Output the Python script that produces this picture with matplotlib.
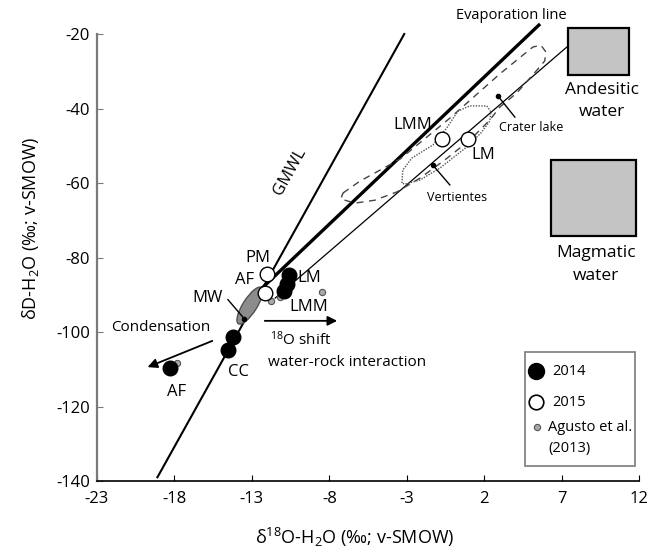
import matplotlib
matplotlib.use('Agg')
import matplotlib.pyplot as plt
import matplotlib.transforms as mtransforms
from matplotlib.patches import Ellipse, Rectangle, Polygon

plt.rcParams['font.family'] = ['Open Sans', 'DejaVu Sans']
plt.rcParams['mathtext.fontset'] = 'custom'
plt.rcParams['mathtext.rm'] = 'Open Sans'
plt.rcParams['mathtext.it'] = 'Open Sans:italic'
plt.rcParams['mathtext.bf'] = 'Open Sans:bold'
plt.rcParams['axes.unicode_minus'] = False

# ---------------- data ----------------
x_ticks = [-23, -18, -13, -8, -3, 2, 7, 12]
y_ticks = [-20, -40, -60, -80, -100, -120, -140]

# 2014 samples (filled black)
d18O_2014 = [-10.6, -10.75, -10.9, -14.21, -14.53, -18.26]
dD_2014 = [-84.8, -87.0, -89.0, -101.3, -104.8, -109.7]
# 2015 samples (open)
d18O_2015 = [-12.0, -12.13, -0.71, 0.94]
dD_2015 = [-84.4, -89.5, -48.2, -48.2]
# Agusto et al. (2013) (small grey)
d18O_agusto = [-11.16, -11.74, -8.48, -17.82]
dD_agusto = [-90.6, -91.7, -89.2, -108.4]

# meteoric water cluster (MW)
mw_center = (-13.13, -92.9)
mw_dot = (-13.48, -96.5)

# reference lines (end points)
gmwl_x = [-19.1, -3.17]
gmwl_y = [-139.0, -20.0]
evap_x = [-12.6, 5.52]
evap_y = [-89.2, -17.6]
andes_x = [-11.5, 7.35]
andes_y = [-90.9, -23.4]

# water boxes (x0, x1, y0, y1)
andesitic_box = (7.41, 11.35, -31.0, -18.5)
magmatic_box = (6.29, 11.81, -74.2, -53.8)

# Vertientes field (dotted outline)
vert_x = [-3.32, -3.26, -2.68, -1.32, -0.42, 0.29, 1.06, 2.16, 2.42, 2.35,
          1.77, 0.87, -0.87, -2.16, -3.13]
vert_y = [-60.0, -56.5, -53.3, -49.8, -45.2, -40.7, -39.3, -39.3, -40.9,
          -43.4, -46.6, -50.3, -56.0, -59.2, -60.3]
# Crater lake field (dashed outline)
crater_x = [-7.13, -6.03, -3.45, -0.23, 3.0, 5.13, 5.65, 5.97, 5.90, 5.39,
            4.10, 3.0, 2.35, 1.06, -0.55, -2.16, -3.65, -5.06, -6.35, -7.26]
crater_y = [-62.7, -59.5, -53.6, -42.6, -30.7, -23.5, -23.0, -24.8, -27.2,
            -29.7, -35.8, -39.6, -43.1, -48.5, -53.8, -58.7, -62.4, -64.6,
            -65.4, -64.3]

legend_labels = ['2014', '2015', 'Agusto et al.', '(2013)']

# ---------------- figure ----------------
fig = plt.figure(figsize=(6.62, 5.55), dpi=100)
ax = fig.add_axes([0.1465, 0.1333, 0.8192, 0.8054])
ax.set_xlim(-23, 12)
ax.set_ylim(-140, -20)
ax.set_xticks(x_ticks)
ax.set_yticks(y_ticks)
ax.tick_params(direction='in', length=4, labelsize=12)
ax.tick_params(axis='x', pad=7)
ax.tick_params(axis='y', pad=5, colors='#7a7a7a', labelcolor='black')
for s in ['top', 'right']:
    ax.spines[s].set_visible(False)
ax.spines['left'].set_color('#7a7a7a')
ax.spines['left'].set_linewidth(1.6)
ax.spines['bottom'].set_color('black')
ax.spines['bottom'].set_linewidth(1.2)

fig.text(0.536, 0.032, r'$\mathrm{\delta^{18}O}$-H$_2$O (‰; v-SMOW)', ha='center', va='center', fontsize=13)
fig.text(0.046, 0.589, r'$\mathrm{\delta}$D-H$_2$O (‰; v-SMOW)', ha='center', va='center', fontsize=13, rotation=90)

# lines
ax.plot(gmwl_x, gmwl_y, color='black', lw=1.5, clip_on=False, zorder=2)
ax.plot(evap_x, evap_y, color='black', lw=2.4, clip_on=False, zorder=2)
ax.plot(andes_x, andes_y, color='black', lw=0.9, clip_on=False, zorder=2)

# fields
ax.add_patch(Polygon(list(zip(crater_x, crater_y)), closed=True, fill=False,
                     ls=(0, (5, 4)), lw=1.0, ec='#444444', clip_on=False, zorder=2))
ax.add_patch(Polygon(list(zip(vert_x, vert_y)), closed=True, fill=False,
                     ls=(0, (1, 1)), lw=1.0, ec='#555555', clip_on=False, zorder=2))

# boxes
for (x0, x1, y0, y1) in [andesitic_box, magmatic_box]:
    ax.add_patch(Rectangle((x0, y0), x1 - x0, y1 - y0, fc='#c4c4c4', ec='black',
                           lw=1.6, clip_on=False, zorder=3))

# MW ellipse
trans = fig.dpi_scale_trans + mtransforms.ScaledTranslation(mw_center[0], mw_center[1], ax.transData)
ax.add_patch(Ellipse((0, 0), 0.43, 0.14, angle=57.5, transform=trans,
                     fc='#8c8c8c', ec='#505050', lw=1.0, zorder=4))
ax.plot([mw_dot[0]], [mw_dot[1]], 'o', color='black', ms=3, zorder=5)

# points
ax.plot(d18O_agusto, dD_agusto, 'o', ms=4.5, mfc='#a8a8a8', mec='#555555', mew=0.8, ls='none', zorder=5)
ax.plot(d18O_2014, dD_2014, 'o', ms=10.5, mfc='black', mec='black', ls='none', zorder=6)
ax.plot(d18O_2015, dD_2015, 'o', ms=10.5, mfc='white', mec='black', mew=1.0, ls='none', zorder=6)

# annotations
fs = 12
ax.text(3.77, -14.9, 'Evaporation line', ha='center', va='center', fontsize=10.5, clip_on=False)
ax.text(9.58, -35.0, 'Andesitic', ha='center', va='center', fontsize=12.5)
ax.text(9.58, -40.9, 'water', ha='center', va='center', fontsize=12.5)
ax.text(9.19, -78.8, 'Magmatic', ha='center', va='center', fontsize=12.5)
ax.text(9.19, -85.0, 'water', ha='center', va='center', fontsize=12.5)
ax.text(5.0, -45.2, 'Crater lake', ha='center', va='center', fontsize=9)
ax.plot([2.87, 3.97], [-36.6, -42.3], color='black', lw=1.0)
ax.plot([2.87], [-36.6], 'o', color='black', ms=3)
ax.text(0.23, -63.8, 'Vertientes', ha='center', va='center', fontsize=9)
ax.plot([-1.32, -0.23], [-55.2, -60.5], color='black', lw=1.0)
ax.plot([-1.32], [-55.2], 'o', color='black', ms=3)
ax.text(-2.65, -44.4, 'LMM', ha='center', va='center', fontsize=fs)
ax.text(1.94, -52.5, 'LM', ha='center', va='center', fontsize=fs)
ax.text(-10.55, -57.0, 'GMWL', ha='center', va='center', fontsize=12, rotation=61)
ax.text(-12.6, -80.1, 'PM', ha='center', va='center', fontsize=fs)
ax.text(-13.45, -86.0, 'AF', ha='center', va='center', fontsize=fs)
ax.text(-15.84, -90.9, 'MW', ha='center', va='center', fontsize=fs)
ax.plot([-14.55, mw_dot[0]], [-91.3, mw_dot[1]], color='black', lw=1.0, zorder=5)
ax.text(-9.32, -85.5, 'LM', ha='center', va='center', fontsize=fs)
ax.text(-9.32, -93.3, 'LMM', ha='center', va='center', fontsize=fs)
ax.text(-13.84, -110.7, 'CC', ha='center', va='center', fontsize=fs)
ax.text(-17.84, -116.1, 'AF', ha='center', va='center', fontsize=fs)
ax.text(-18.87, -98.9, 'Condensation', ha='center', va='center', fontsize=11)
ax.annotate('', xy=(-19.9, -109.7), xytext=(-15.39, -102.1),
            arrowprops=dict(arrowstyle='-|>', color='black', lw=1.3, mutation_scale=14))
ax.annotate('', xy=(-7.32, -97.0), xytext=(-12.35, -97.0),
            arrowprops=dict(arrowstyle='-|>', color='black', lw=1.3, mutation_scale=14))
ax.text(-11.84, -102.1, r'$\mathregular{^{18}}$O shift', ha='left', va='center', fontsize=11)
ax.text(-11.97, -108.1, 'water-rock interaction', ha='left', va='center', fontsize=11)

# legend (drawn in axes-fraction coordinates)
ta = ax.transAxes
ax.add_patch(Rectangle((0.789, 0.0336), 0.203, 0.255, transform=ta, fc='white',
                       ec='#7a7a7a', lw=1.2, clip_on=False, zorder=7))
ax.plot([0.8095], [0.2461], 'o', transform=ta, ms=11.5, mfc='black', mec='black', clip_on=False, zorder=8)
ax.plot([0.8095], [0.1767], 'o', transform=ta, ms=10.5, mfc='white', mec='black', mew=1.2, clip_on=False, zorder=8)
ax.plot([0.8114], [0.1208], 'o', transform=ta, ms=4.5, mfc='#a8a8a8', mec='#555555', mew=0.8, clip_on=False, zorder=8)
ax.text(0.839, 0.2461, legend_labels[0], transform=ta, ha='left', va='center', fontsize=10.5, zorder=8)
ax.text(0.839, 0.1767, legend_labels[1], transform=ta, ha='left', va='center', fontsize=10.5, zorder=8)
ax.text(0.8316, 0.1208, legend_labels[2], transform=ta, ha='left', va='center', fontsize=10.5, zorder=8)
ax.text(0.8316, 0.0738, legend_labels[3], transform=ta, ha='left', va='center', fontsize=10.5, zorder=8)

fig.savefig('out.png', dpi=100)
